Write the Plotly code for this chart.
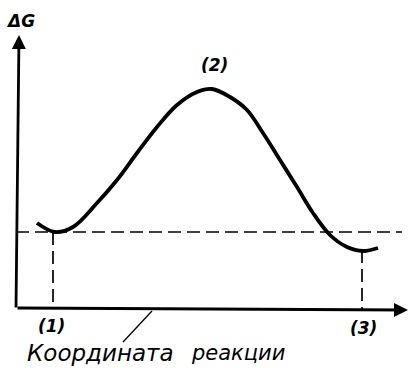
import plotly.graph_objects as go

# Reaction coordinate (arbitrary units) and free energy ΔG (arbitrary units)
reaction_coord = [37, 55, 73, 97, 117, 137, 157, 177, 197, 212, 230, 247, 263, 280, 297, 313, 330, 347, 363, 378]
delta_g = [145, 136, 141, 165, 188, 215, 241, 263, 276, 279, 271, 258, 235, 208, 181, 155, 133, 121, 117, 120]

state_labels = ["(1)", "(2)", "(3)"]
state_x = [53, 212, 362]
state_g = [136, 279, 118]

axis_origin = (16, 59)
x_axis_end = 408
y_axis_end = 333
dashed_end = 402

x_title_words = ["Координата", "реакции"]
y_title = "ΔG"

FONT = "DejaVu Sans"

fig = go.Figure()
fig.add_trace(go.Scatter(
    x=reaction_coord, y=delta_g, mode="lines",
    line=dict(color="black", width=3.8, shape="spline", smoothing=1.0),
    hoverinfo="skip", showlegend=False,
))

ox, oy = axis_origin
shapes = []
dash = "13px,6px"
shapes.append(dict(type="line", xref="x", yref="y", x0=ox, x1=dashed_end,
                   y0=state_g[0], y1=state_g[0],
                   line=dict(color="black", width=1.7, dash=dash)))
for i in (0, 2):
    shapes.append(dict(type="line", xref="x", yref="y", x0=state_x[i], x1=state_x[i],
                       y0=state_g[i], y1=oy,
                       line=dict(color="black", width=1.7, dash=dash)))
shapes.append(dict(type="line", xref="x", yref="y", x0=123, y0=26, x1=152, y1=57,
                   line=dict(color="black", width=1.3)))

annotations = []
annotations.append(dict(x=x_axis_end, y=oy - 1, ax=ox, ay=oy + 1, xref="x", yref="y",
                        axref="x", ayref="y", text="", showarrow=True,
                        arrowhead=2, arrowsize=1.0, arrowwidth=2.8, arrowcolor="black"))
annotations.append(dict(x=ox + 3, y=y_axis_end, ax=ox, ay=oy, xref="x", yref="y",
                        axref="x", ayref="y", text="", showarrow=True,
                        arrowhead=2, arrowsize=1.0, arrowwidth=2.8, arrowcolor="black"))
label_pos = [(51, 42), (214, 303), (363, 40)]
for lab, (lx, ly) in zip(state_labels, label_pos):
    annotations.append(dict(x=lx, y=ly, xref="x", yref="y", text=f"<i><b>{lab}</b></i>",
                            showarrow=False, font=dict(family=FONT, size=17, color="black")))
annotations.append(dict(x=20, y=347, xref="x", yref="y", text=f"<i><b>{y_title}</b></i>",
                        showarrow=False, font=dict(family=FONT, size=17, color="black")))
annotations.append(dict(x=100, y=15, xref="x", yref="y", text=f"<i>{x_title_words[0]}</i>",
                        showarrow=False, font=dict(family=FONT, size=23, color="black")))
annotations.append(dict(x=238, y=15, xref="x", yref="y", text=f"<i>{x_title_words[1]}</i>",
                        showarrow=False, font=dict(family=FONT, size=21, color="black")))

fig.update_layout(
    width=408, height=368,
    margin=dict(l=0, r=0, t=0, b=0),
    paper_bgcolor="white", plot_bgcolor="white",
    xaxis=dict(range=[0, 408], visible=False, fixedrange=True),
    yaxis=dict(range=[0, 368], visible=False, fixedrange=True),
    shapes=shapes, annotations=annotations,
)
fig.write_html("out.html", config={"displayModeBar": False},
               post_script="document.body.style.margin='0';document.body.style.padding='0';document.body.style.overflow='hidden';")
